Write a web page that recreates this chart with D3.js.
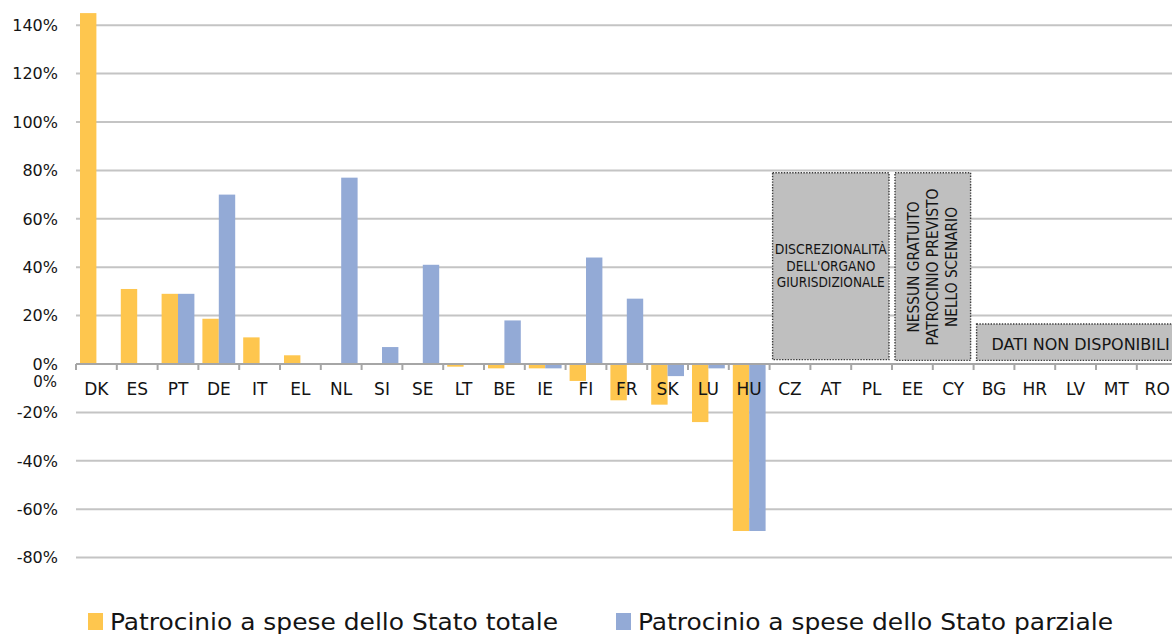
<!DOCTYPE html>
<html><head><meta charset="utf-8">
<script src="https://cdn.jsdelivr.net/npm/d3@7"></script>
<style>html,body{margin:0;padding:0;background:#fff;overflow:hidden}</style>
</head><body>
<svg id="c" width="1172" height="634"></svg>
<script>
// ---- data ----
const categories = ["DK","ES","PT","DE","IT","EL","NL","SI","SE","LT","BE","IE","FI","FR","SK","LU","HU","CZ","AT","PL","EE","CY","BG","HR","LV","MT","RO"];
const totale =  [145, 31, 29, 18.7, 11, 3.6, null, null, null, -1.1, -1.8, -1.8, -7, -15, -16.8, -24, -69, null, null, null, null, null, null, null, null, null, null];
const parziale = [null, null, 29, 70, null, null, 77, 7, 41, null, 18, -1.8, 44, 27, -5, -1.8, -69, null, null, null, null, null, null, null, null, null, null];
const seriesNames = ["Patrocinio a spese dello Stato totale", "Patrocinio a spese dello Stato parziale"];
const seriesColors = ["#FEC64E", "#93AAD6"];
const yTicks = [-80, -60, -40, -20, 0, 20, 40, 60, 80, 100, 120, 140];
const notes = [
  {from: "CZ", to: "PL", top: 79, bottom: 1.8, lines: ["DISCREZIONALITÀ", "DELL'ORGANO", "GIURISDIZIONALE"]},
  {from: "EE", to: "CY", top: 79, bottom: 1.5, lines: ["NESSUN GRATUITO", "PATROCINIO PREVISTO", "NELLO SCENARIO"]},
  {from: "BG", to: "RO", top: 16.5, bottom: 1.5, lines: ["DATI NON DISPONIBILI"]}
];

// ---- layout ----
const svg = d3.select("#c");
const x0 = 76, step = 40.8;
const x = d3.scaleBand().domain(categories).range([x0, x0 + step * categories.length]).padding(0);
const xs = d3.scaleBand().domain([0, 1]).range([4, step - 4]).padding(0);
const y = d3.scaleLinear().domain([-80, 140]).range([557.6, 25.2]);
const right = 1172;
const ink = "#141414";

// gridlines
svg.append("g").selectAll("line").data(yTicks.filter(d => d !== 0)).join("line")
  .attr("x1", x0).attr("x2", right)
  .attr("y1", d => y(d)).attr("y2", d => y(d))
  .attr("stroke", "#c4c4c4").attr("stroke-width", 2);

// y labels
svg.append("g").selectAll("text").data(yTicks).join("text")
  .attr("x", 58).attr("y", d => y(d)).attr("dy", "0.36em")
  .attr("text-anchor", "end")
  .attr("font-family", "DejaVu Sans").attr("font-size", 16).attr("fill", ink)
  .text(d => d + "%");
svg.append("text").attr("x", 57).attr("y", y(0) + 18).attr("dy", "0.36em")
  .attr("text-anchor", "end").attr("font-family", "DejaVu Sans").attr("font-size", 15)
  .attr("fill", ink).text("0%");

// notes boxes
const ng = svg.append("g");
notes.forEach(n => {
  const xa = x(n.from) + 3, xb = Math.min(x(n.to) + x.bandwidth() - 3, right + 10);
  const ya = y(n.top), yb = y(n.bottom);
  ng.append("rect").attr("x", xa).attr("y", ya).attr("width", xb - xa).attr("height", yb - ya)
    .attr("fill", "#bfbfbf").attr("stroke", "#3a3a3a").attr("stroke-width", 1.4)
    .attr("stroke-dasharray", "1.4,1.4");
});
const boxFont = "DejaVu Sans Condensed";
// note 1 text
{
  const n = notes[0];
  const cx = (x(n.from) + x(n.to) + x.bandwidth()) / 2;
  const base = [254, 270.5, 287];
  const lens = [112, 89, 108];
  n.lines.forEach((t, i) => ng.append("text").attr("x", cx).attr("y", base[i])
    .attr("text-anchor", "middle").attr("font-family", boxFont).attr("font-size", 13.5)
    .attr("textLength", lens[i]).attr("lengthAdjust", "spacingAndGlyphs")
    .attr("fill", ink).text(t));
}
// note 2 text (rotated)
{
  const n = notes[1];
  const cx = (x(n.from) + x(n.to) + x.bandwidth()) / 2;
  const cy = 267;
  const lens = [131, 157, 120];
  const g = ng.append("g").attr("transform", `translate(${cx},${cy}) rotate(-90)`);
  n.lines.forEach((t, i) => g.append("text").attr("x", 0).attr("y", (i - 1) * 19.2).attr("dy", "0.36em")
    .attr("text-anchor", "middle").attr("font-family", boxFont).attr("font-size", 15)
    .attr("textLength", lens[i]).attr("lengthAdjust", "spacingAndGlyphs")
    .attr("fill", ink).text(t));
}
// note 3 text
{
  const n = notes[2];
  ng.append("text").attr("x", x(n.from) + 18).attr("y", 350)
    .attr("font-family", boxFont).attr("font-size", 16)
    .attr("textLength", 178).attr("lengthAdjust", "spacingAndGlyphs")
    .attr("fill", ink).text(n.lines[0]);
}

// bars
const rows = categories.map((c, i) => ({c, v: [totale[i], parziale[i]]}));
const bg = svg.append("g");
rows.forEach(r => {
  r.v.forEach((v, s) => {
    if (v === null) return;
    bg.append("rect")
      .attr("x", x(r.c) + xs(s)).attr("width", xs.bandwidth())
      .attr("y", y(Math.max(0, v))).attr("height", Math.abs(y(v) - y(0)))
      .attr("fill", seriesColors[s]);
  });
});

// zero axis with ticks
svg.append("line").attr("x1", x0).attr("x2", right).attr("y1", y(0)).attr("y2", y(0))
  .attr("stroke", "#a6a6a6").attr("stroke-width", 2);
svg.append("g").selectAll("line").data(categories).join("line")
  .attr("x1", d => x(d)).attr("x2", d => x(d))
  .attr("y1", y(0)).attr("y2", y(0) + 6)
  .attr("stroke", "#a6a6a6").attr("stroke-width", 2);

// category labels
svg.append("g").selectAll("text").data(categories).join("text")
  .attr("x", d => x(d) + x.bandwidth() / 2).attr("y", y(0) + 25).attr("dy", "0.36em")
  .attr("text-anchor", "middle").attr("font-family", "DejaVu Sans").attr("font-size", 17)
  .attr("fill", ink).text(d => d);

// legend
const legX = [88, 616], legTX = [110, 638], legW = [448, 475];
seriesNames.forEach((name, i) => {
  svg.append("rect").attr("x", legX[i]).attr("y", 613).attr("width", 15).attr("height", 17)
    .attr("fill", seriesColors[i]);
  svg.append("text").attr("x", legTX[i]).attr("y", 629.5)
    .attr("font-family", "DejaVu Sans Condensed").attr("font-size", 23)
    .attr("textLength", legW[i]).attr("lengthAdjust", "spacingAndGlyphs")
    .attr("fill", ink).text(name);
});
</script>
</body></html>
